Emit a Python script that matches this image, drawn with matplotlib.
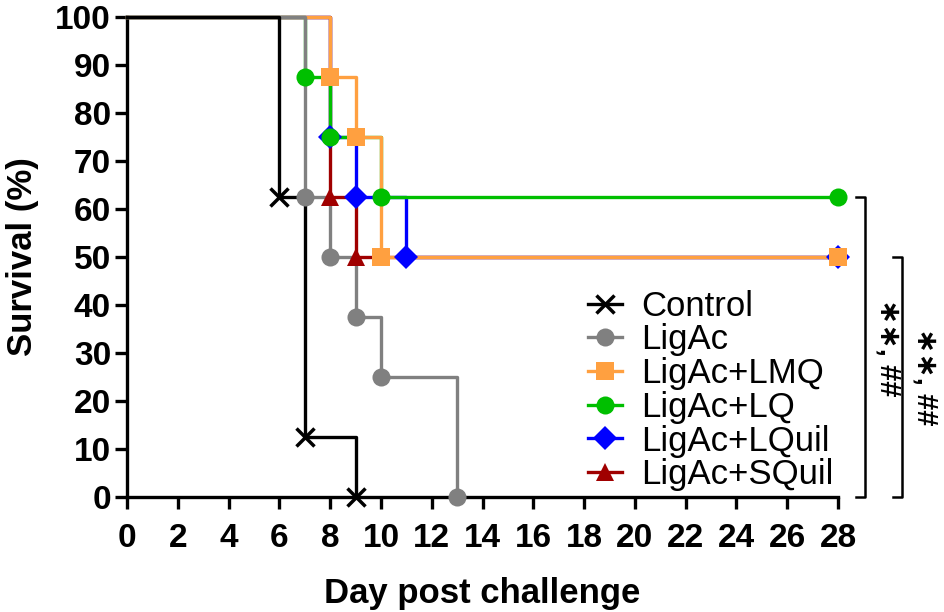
import matplotlib
matplotlib.use("Agg")
import matplotlib.pyplot as plt
from matplotlib.lines import Line2D

plt.rcParams['font.family'] = ['Liberation Sans', 'DejaVu Sans']

# Kaplan-Meier steps (day, % survival)
control_t = [0, 6, 7, 9]
control_s = [100, 62.5, 12.5, 0]
ligac_t = [0, 7, 8, 9, 10, 13]
ligac_s = [100, 62.5, 50, 37.5, 25, 0]
lmq_t = [0, 8, 9, 10, 28]
lmq_s = [100, 87.5, 75, 50, 50]
lq_t = [0, 7, 8, 10, 28]
lq_s = [100, 87.5, 75, 62.5, 62.5]
lquil_t = [0, 8, 9, 11, 28]
lquil_s = [100, 75, 62.5, 50, 50]
squil_t = [0, 8, 9, 28]
squil_s = [100, 62.5, 50, 50]

labels = ['Control', 'LigAc', 'LigAc+LMQ', 'LigAc+LQ', 'LigAc+LQuil', 'LigAc+SQuil']
colors = ['#000000', '#808080', '#FFA040', '#00BF00', '#0000FF', '#A00000']
markers = ['x', 'o', 's', 'o', 'D', '^']
msizes = [13, 13, 13, 13, 12, 13]
zorders = [8, 7, 6, 5, 3, 4]
series = [(control_t, control_s), (ligac_t, ligac_s), (lmq_t, lmq_s),
          (lq_t, lq_s), (lquil_t, lquil_s), (squil_t, squil_s)]

fig = plt.figure(figsize=(9.45, 6.12), dpi=100)
ax = fig.add_axes([0.1344, 0.1879, 0.7524, 0.7843])

handles = []
for (t, s), lab, c, m, ms, z in zip(series, labels, colors, markers, msizes, zorders):
    ax.step(t, s, where='post', color=c, lw=2.4, zorder=z, clip_on=False)
    mew = 2.5 if m == 'x' else 0
    ax.plot(t[1:], s[1:], ls='none', marker=m, ms=ms, color=c, mew=mew,
            zorder=z + 10, clip_on=False)
    handles.append(Line2D([], [], color=c, lw=2.4, marker=m, ms=ms, mew=mew))

ax.set_xlim(0, 28)
ax.set_ylim(0, 100)
ax.set_xticks(range(0, 29, 2))
ax.set_yticks(range(0, 101, 10))
for sp in ['top', 'right']:
    ax.spines[sp].set_visible(False)
for sp in ['left', 'bottom']:
    ax.spines[sp].set_linewidth(2.4)
ax.tick_params(width=2.4, length=8.5, labelsize=24, pad=3)
ax.tick_params(axis='x', pad=10)
for lb in ax.get_xticklabels() + ax.get_yticklabels():
    lb.set_fontweight('bold')
ax.set_xlabel('Day post challenge', fontsize=25, fontweight='bold', labelpad=17)
ax.set_ylabel('Survival (%)', fontsize=25, fontweight='bold', labelpad=12)

leg = ax.legend(handles, labels, loc='lower left', bbox_to_anchor=(0.648, 0.012),
                frameon=False, fontsize=25, borderaxespad=0, borderpad=0,
                handlelength=1.0, handletextpad=0.55, labelspacing=0.02)

# significance brackets
ax.plot([28.7, 29.06, 29.06, 28.7], [62.5, 62.5, 0, 0], color='k', lw=1.8, clip_on=False)
ax.plot([30.15, 30.5, 30.5, 30.15], [50, 50, 0, 0], color='k', lw=1.8, clip_on=False)
ax.text(30.0, 31, '\u2217\u2217, ##', rotation=-90, ha='center', va='center',
        fontsize=21, fontweight='bold')
ax.text(31.45, 25, '\u2217\u2217, ##', rotation=-90, ha='center', va='center',
        fontsize=21, fontweight='bold')

fig.savefig('out.png', dpi=100)
